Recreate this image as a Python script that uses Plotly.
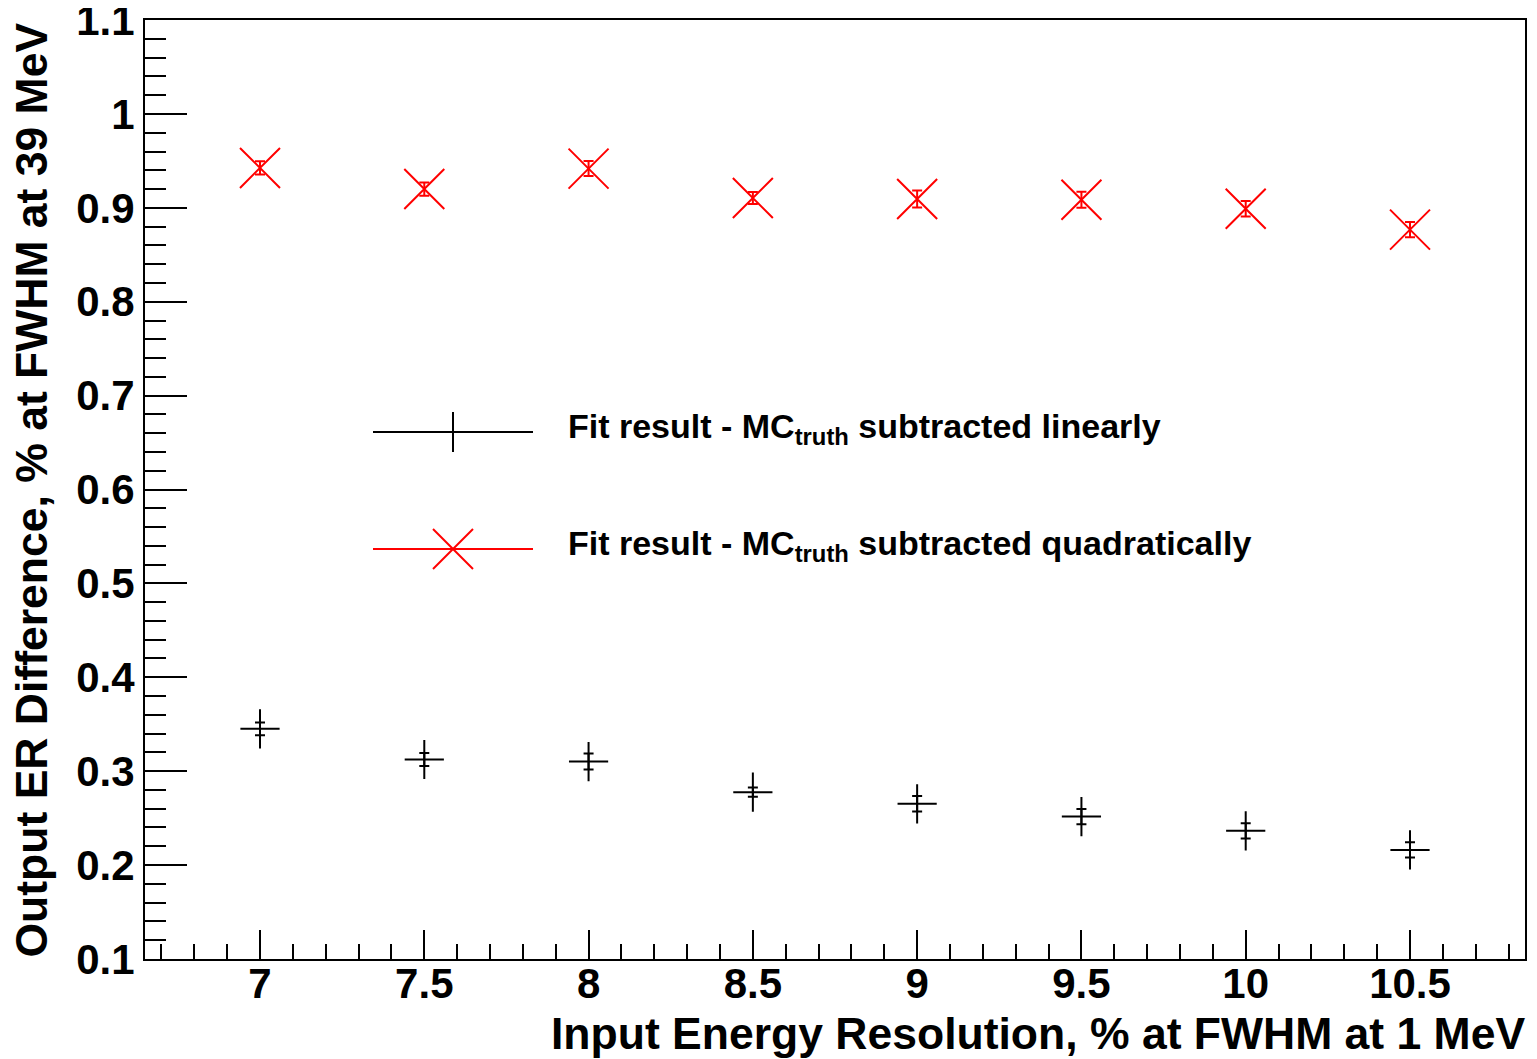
import plotly.graph_objects as go

# ---- data ----
x_vals = [7.0, 7.5, 8.0, 8.5, 9.0, 9.5, 10.0, 10.5]
linear_vals = [0.3451, 0.3124, 0.3102, 0.2776, 0.2652, 0.2516, 0.2364, 0.2161]
linear_err = [0.0068, 0.0069, 0.0085, 0.0050, 0.0083, 0.0082, 0.0082, 0.0082]
quad_vals = [0.9425, 0.9200, 0.9418, 0.9105, 0.9095, 0.9087, 0.8991, 0.8768]
quad_err = [0.0071, 0.0071, 0.0080, 0.0065, 0.0090, 0.0085, 0.0083, 0.0082]

legend_labels = [
    "Fit result - MC<sub>truth</sub> subtracted linearly",
    "Fit result - MC<sub>truth</sub> subtracted quadratically",
]
x_title = "Input Energy Resolution, % at FWHM at 1 MeV"
y_title = "Output ER Difference, % at FWHM at 39 MeV"

FONT = "Liberation Sans"

fig = go.Figure()

fig.add_trace(go.Scatter(
    x=x_vals, y=linear_vals, mode="markers",
    marker=dict(symbol="cross-thin", size=28, line=dict(color="black", width=2), color="black"),
    error_y=dict(type="data", array=linear_err, width=5, thickness=2, color="black"),
    showlegend=False,
))
fig.add_trace(go.Scatter(
    x=x_vals, y=quad_vals, mode="markers",
    marker=dict(symbol="x-thin", size=40, line=dict(color="red", width=2), color="red"),
    error_y=dict(type="data", array=quad_err, width=5, thickness=2, color="red"),
    showlegend=False,
))

# page offset (browser body margin)
OFF = 8

def px(x):
    return (x - 145) / 1380.0

def py(y):
    return (959 - y) / 939.0

shapes = []
shapes.append(dict(type="line", xref="paper", yref="paper", x0=px(373), x1=px(533), y0=py(432), y1=py(432),
                   line=dict(color="black", width=2)))
shapes.append(dict(type="line", xref="paper", yref="paper", x0=px(453), x1=px(453), y0=py(412), y1=py(452),
                   line=dict(color="black", width=2)))
shapes.append(dict(type="line", xref="paper", yref="paper", x0=px(373), x1=px(533), y0=py(549), y1=py(549),
                   line=dict(color="red", width=2)))
shapes.append(dict(type="line", xref="paper", yref="paper", x0=px(433), x1=px(473), y0=py(529), y1=py(569),
                   line=dict(color="red", width=2)))
shapes.append(dict(type="line", xref="paper", yref="paper", x0=px(433), x1=px(473), y0=py(569), y1=py(529),
                   line=dict(color="red", width=2)))

annotations = [
    dict(text=legend_labels[0], xref="paper", yref="paper", x=px(566), y=py(428), xanchor="left",
         yanchor="middle", showarrow=False, font=dict(family=FONT, size=34, color="black", weight="bold")),
    dict(text=legend_labels[1], xref="paper", yref="paper", x=px(566), y=py(545), xanchor="left",
         yanchor="middle", showarrow=False, font=dict(family=FONT, size=34, color="black", weight="bold")),
    dict(text=x_title, xref="paper", yref="paper", x=px(1527), y=py(1060), xanchor="right",
         yanchor="bottom", showarrow=False, font=dict(family=FONT, size=44.5, color="black", weight="bold")),
    dict(text=y_title, xref="paper", yref="paper", x=px(31), y=py(21), xanchor="center",
         yanchor="top", textangle=-90, showarrow=False,
         font=dict(family=FONT, size=44.5, color="black", weight="bold")),
]

fig.update_layout(
    width=1537 - OFF, height=1059 - OFF,
    margin=dict(l=145 - OFF, r=12, t=20 - OFF, b=100, pad=0, autoexpand=False),
    paper_bgcolor="white", plot_bgcolor="white",
    shapes=shapes, annotations=annotations,
    font=dict(family=FONT, color="black"),
)
fig.update_xaxes(
    range=[6.65, 10.85], dtick=0.5, tick0=0, showgrid=False, zeroline=False,
    showline=True, linecolor="black", linewidth=2, mirror=True, automargin=False,
    ticks="inside", ticklen=29, tickwidth=2, tickcolor="black",
    ticklabelstandoff=-13, ticklabeloverflow="allow",
    minor=dict(dtick=0.1, ticks="inside", ticklen=15, tickwidth=2, tickcolor="black", showgrid=False),
    tickfont=dict(family=FONT, size=42, color="black", weight="bold"),
)
fig.update_yaxes(
    range=[0.0999, 1.1001], dtick=0.1, tick0=0, showgrid=False, zeroline=False,
    showline=True, linecolor="black", linewidth=2, mirror=True, automargin=False,
    ticks="inside", ticklen=42, tickwidth=2, tickcolor="black",
    ticklabeloverflow="allow",
    minor=dict(dtick=0.02, ticks="inside", ticklen=21, tickwidth=2, tickcolor="black", showgrid=False),
    tickfont=dict(family=FONT, size=42, color="black", weight="bold"),
)

fig.write_html("out.html")
